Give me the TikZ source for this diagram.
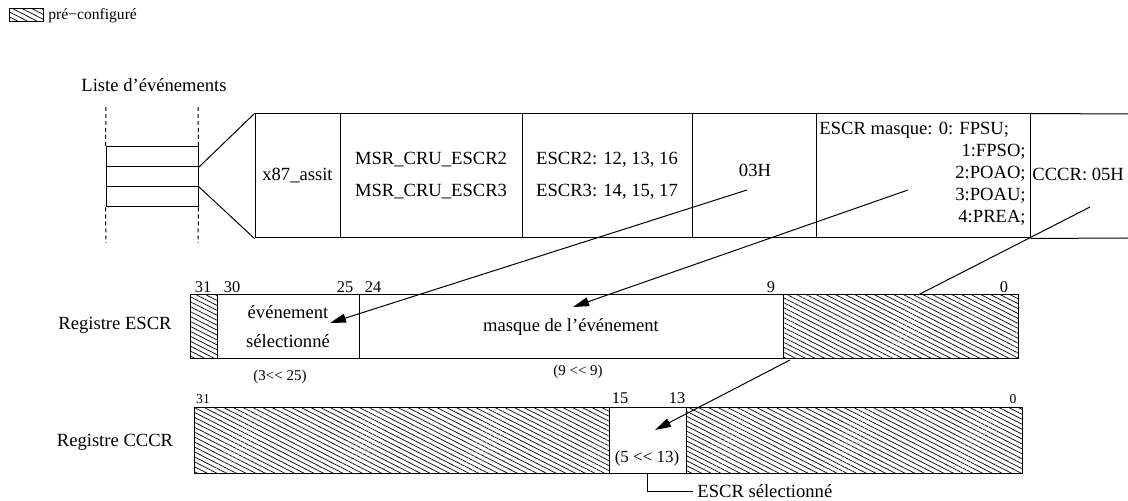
\documentclass[tikz,border=0pt]{standalone}
\usepackage{fontspec}
\setmainfont{Liberation Serif}
\usetikzlibrary{arrows.meta,positioning,patterns.meta}

\begin{document}
\begin{tikzpicture}[
 x=0.5pt,y=-0.5pt,
 every node/.style={font=\fontsize{9.3}{11}\selectfont,inner sep=0pt},
 field/.style={draw,line width=0.5pt,minimum height=32pt},
 hatched/.style={field,pattern={Lines[angle=-27,distance=2.2pt,line width=0.35pt]}},
 cell/.style={draw,line width=0.5pt,minimum height=62pt,align=left},
 evt/.style={draw,line width=0.5pt,minimum width=46pt,minimum height=10pt},
 bitlbl/.style={anchor=base,font=\fontsize{8.2}{9}\selectfont},
 tinylbl/.style={anchor=base,font=\fontsize{6.8}{8}\selectfont},
 shiftlbl/.style={font=\fontsize{7.5}{9}\selectfont},
 arr/.style={-{Triangle[length=8pt,width=4.5pt]},line width=0.5pt},
 conn/.style={line width=0.5pt}
]
\useasboundingbox (0,0) rectangle (1128,501);
% legend
\node[hatched,minimum width=17pt,minimum height=6.5pt] (key) at (26,15.5) {};
\node[anchor=west,font=\fontsize{7.8}{9}\selectfont] (keytext) at (48,16) {pré−configuré};
% event list
\node (evtitle) at (154,85) {Liste d’événements};
\node[evt] (ev1) at (152,157) {};
\node[evt] (ev2) at (152,177) {};
\node[evt] (ev3) at (152,197) {};
\coordinate (dl1) at (106,107); \coordinate (dl2) at (106,243);
\coordinate (dr1) at (198,107); \coordinate (dr2) at (198,243);
\draw[conn,dash pattern=on 2pt off 1.5pt] (dl1) -- (ev1.north west) (ev3.south west) -- (dl2);
\draw[conn,dash pattern=on 2pt off 1.5pt] (dr1) -- (ev1.north east) (ev3.south east) -- (dr2);
% event table
\node[cell,minimum width=42.5pt] (t1) at (297.5,176) {x87\_assit};
\node[cell,minimum width=91pt] (t2) at (431,176) {MSR\_CRU\_ESCR2\\[5pt]MSR\_CRU\_ESCR3};
\node[cell,minimum width=85pt] (t3) at (607,176) {ESCR2: 12, 13, 16\\[5pt]ESCR3: 14, 15, 17};
\node[cell,minimum width=62pt] (t4) at (754,176) {};
\node[cell,minimum width=107pt] (t5) at (923,176) {};
\node (hex) at (755,170) {03H};
\node[anchor=west] (mask0) at (819,130) {ESCR masque: 0: FPSU;};
\foreach \m [count=\i] in {{1:FPSO;},{2:POAO;},{3:POAU;},{4:PREA;}}
  \node[anchor=east] (mask\i) at (1026,130+22*\i) {\m};
\node[anchor=west] (cccrval) at (1032,174) {CCCR: 05H};
\coordinate (topend) at (1128,114); \coordinate (botend) at (1128,238);
\draw[conn] (t5.north east) -- (topend) (t5.south east) -- (botend);
\draw[conn] (ev1.south east) -- (t1.north west);
\draw[conn] (ev3.north east) -- (t1.south west);
% ESCR register
\node (lescr) at (115,325) {Registre ESCR};
\node[hatched,minimum width=13.5pt] (e31) at (203.5,327) {};
\node[field,minimum width=71pt,align=center] (esel) at (288,327) {événement\\[3.5pt]sélectionné};
\node[field,minimum width=212pt] (emask) at (571,327) {masque de l’événement};
\node[hatched,minimum width=117.5pt] (eres) at (900.5,327) {};
\foreach \b/\x in {31/203,30/232,25/345,24/373,9/771,0/1004}
  \node[bitlbl] (eb\b) at (\x,293) {\b};
\node[shiftlbl] (eshift1) at (280,377) {(3<\kern0pt< 25)};
\node[shiftlbl] (eshift2) at (578,372) {(9 <\kern0pt< 9)};
% CCCR register
\node (lcccr) at (115,442) {Registre CCCR};
\node[hatched,minimum width=207.5pt,minimum height=32.5pt] (chi) at (401.5,440.5) {};
\node[field,minimum width=38.5pt,minimum height=32.5pt] (csel) at (647.5,440.5) {};
\node[hatched,minimum width=168pt,minimum height=32.5pt] (clo) at (854,440.5) {};
\node[tinylbl] (cb31) at (203,404) {31};
\node[bitlbl] (cb15) at (620,404) {15};
\node[bitlbl] (cb13) at (677,404) {13};
\node[tinylbl] (cb0) at (1013,404) {0};
\node[font=\fontsize{8.5}{10}\selectfont] (cshift) at (647,458) {(5 <\kern0pt< 13)};
\node[anchor=west] (escrsel) at (697,491) {ESCR sélectionné};
\draw[conn,shorten >=2pt] (csel.south) |- (escrsel.west);
% links from table to registers
\coordinate (a1) at (747,190); \coordinate (a1e) at (330,323);
\coordinate (a2) at (908,190); \coordinate (a2e) at (573,307);
\coordinate (a3) at (1090,207); \coordinate (a3e) at (918,295);
\coordinate (a4) at (790,360); \coordinate (a4e) at (655,430);
\draw[arr] (a1) -- (a1e);
\draw[arr] (a2) -- (a2e);
\draw[conn] (a3) -- (a3e);
\draw[arr] (a4) -- (a4e);
\end{tikzpicture}
\end{document}
